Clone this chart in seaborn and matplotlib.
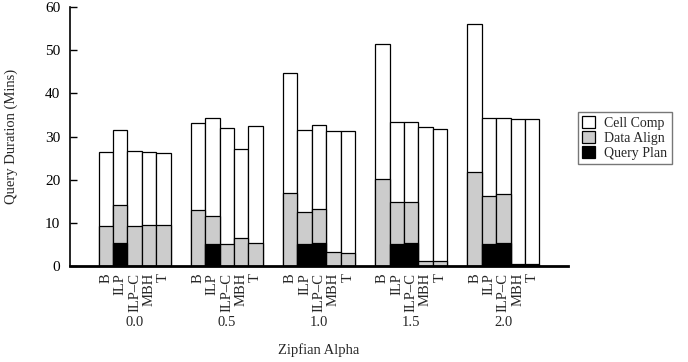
import numpy as np
import pandas as pd
import matplotlib
matplotlib.use("Agg")
import matplotlib.pyplot as plt
import matplotlib.patches as mpatches
import seaborn as sns

alphas = ["0.0", "0.5", "1.0", "1.5", "2.0"]
methods = ["B", "ILP", "ILP–C", "MBH", "T"]

# rows = alpha, columns = method
query_plan = [[0.0, 5.3, 0.0, 0.0, 0.0],
              [0.0, 5.2, 0.0, 0.0, 0.0],
              [0.0, 5.2, 5.4, 0.0, 0.0],
              [0.0, 5.2, 5.4, 0.0, 0.0],
              [0.0, 5.2, 5.4, 0.2, 0.2]]
data_align = [[9.2, 8.8, 9.3, 9.4, 9.6],
              [12.9, 6.3, 5.0, 6.6, 5.4],
              [16.9, 7.3, 7.8, 3.3, 3.1],
              [20.1, 9.6, 9.4, 1.2, 1.2],
              [21.7, 11.0, 11.3, 0.2, 0.2]]
cell_comp = [[17.1, 17.5, 17.3, 16.9, 16.5],
             [20.3, 22.9, 27.0, 20.5, 27.0],
             [27.7, 19.1, 19.5, 28.0, 28.1],
             [31.3, 18.5, 18.5, 31.1, 30.5],
             [34.3, 18.0, 17.7, 33.6, 33.6]]

components = ["Cell Comp", "Data Align", "Query Plan"]
colors = ["white", "#cccccc", "black"]

qp = np.array(query_plan)
da = np.array(data_align)
cc = np.array(cell_comp)
cum = {"Query Plan": qp, "Data Align": qp + da, "Cell Comp": qp + da + cc}

sns.set_theme(style="ticks")
plt.rcParams["font.family"] = ["Liberation Serif", "DejaVu Serif"]

fig = plt.figure(figsize=(6.88, 3.62), dpi=100)
W, H = 688, 362
ax = fig.add_axes([70 / W, (H - 266) / H, (568 - 70) / W, (266 - 7) / H])

for comp, col in zip(components, colors):
    vals = cum[comp]
    df = pd.DataFrame([(a, m, vals[i, j]) for i, a in enumerate(alphas)
                       for j, m in enumerate(methods)],
                      columns=["alpha", "method", "value"])
    sns.barplot(data=df, x="alpha", y="value", hue="method", order=alphas,
                hue_order=methods, palette=[col] * len(methods), width=0.78,
                edgecolor="black", linewidth=0.9, saturation=1, errorbar=None,
                legend=False, ax=ax, zorder=2)

ax.set_xlim(-0.7, 4.7)
ax.set_ylim(0, 60)
ax.set_yticks(range(0, 61, 10))
ax.tick_params(axis="y", direction="in", length=5, width=1, labelsize=11,
               colors="black", pad=7)

# method tick labels at bar centres
first = ax.containers[:len(methods)]
centers, labels = [], []
for m, cont in zip(methods, first):
    for p in cont.patches:
        centers.append(p.get_x() + p.get_width() / 2)
        labels.append(m)
order = np.argsort(centers)
ax.set_xticks(np.array(centers)[order])
ax.set_xticklabels(np.array(labels)[order], rotation=90, fontsize=10.5,
                   va="top", ha="center")
ax.tick_params(axis="x", length=0, pad=5)

for i, a in enumerate(alphas):
    ax.text(i, (266 - 323) / 259, a, transform=ax.get_xaxis_transform(),
            ha="center", va="center", fontsize=10.5)
ax.text(0.5, (266 - 350) / 259, "Zipfian Alpha", transform=ax.transAxes,
        ha="center", va="center", fontsize=10.5)
ax.set_xlabel("")
ax.set_ylabel("Query Duration (Mins)", fontsize=10.5)
ax.yaxis.set_label_coords((18 - 70) / 498, 0.5)

sns.despine(ax=ax)
ax.spines["left"].set_linewidth(1.2)
ax.spines["bottom"].set_linewidth(2)
ax.spines["left"].set_color("black")
ax.spines["bottom"].set_color("black")
ax.spines["bottom"].set_zorder(5)

handles = [mpatches.Patch(facecolor=c, edgecolor="black", linewidth=0.9, label=l)
           for l, c in zip(components, colors)]
leg = fig.legend(handles=handles, loc="upper left",
                 bbox_to_anchor=(578 / W, 1 - 112 / H), fontsize=10,
                 frameon=True, fancybox=False, borderaxespad=0,
                 handlelength=0.9, handleheight=0.9, handletextpad=0.7,
                 labelspacing=0.1, borderpad=0.3)
leg.get_frame().set_edgecolor("#555555")
leg.get_frame().set_linewidth(1.0)

fig.savefig("out.png", dpi=100)
